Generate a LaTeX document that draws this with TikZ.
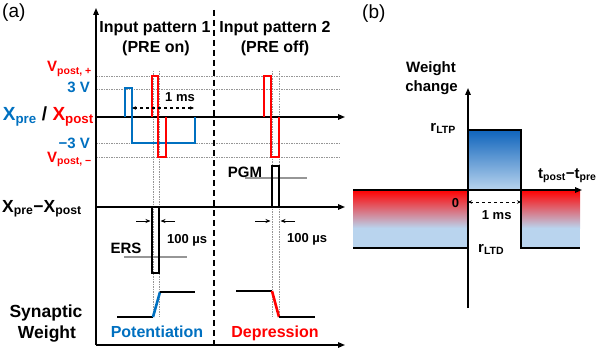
\documentclass[tikz,border=0pt]{standalone}
\usepackage{fontspec}
\setmainfont{Liberation Sans}
\usetikzlibrary{arrows.meta,positioning,calc}
\definecolor{preblue}{RGB}{0,112,192}
\definecolor{postred}{RGB}{255,0,0}
\definecolor{paleblue}{RGB}{185,212,238}
\definecolor{deepblue}{RGB}{15,100,188}
\definecolor{gridgray}{RGB}{150,150,150}
\tikzset{
  axis/.style={line width=1.4pt, -{Triangle[length=7pt,width=5.5pt]}},
  guide/.style={gridgray, line width=0.6pt, dash pattern=on 1.5pt off 1pt},
  pulse/.style={line width=2.9pt},
  wline/.style={line width=2.6pt},
  thresh/.style={gridgray, line width=1.6pt},
  ptr/.style={line width=1pt, -{Stealth[length=5pt,width=4pt]}},
  span/.style={line width=1pt, dashed, {Stealth[length=4pt,width=3.5pt]}-{Stealth[length=4pt,width=3.5pt]}},
  ttl/.style={font=\bfseries\fontsize{16}{18}\selectfont, inner sep=0pt},
  lab/.style={font=\bfseries\fontsize{15}{17}\selectfont, inner sep=0pt},
  big/.style={font=\bfseries\fontsize{19}{21}\selectfont, inner sep=0pt},
  mid/.style={font=\bfseries\fontsize{17.5}{19}\selectfont, inner sep=0pt},
  tiny/.style={font=\bfseries\fontsize{13}{15}\selectfont, inner sep=0pt},
  panel/.style={font=\fontsize{19}{21}\selectfont, inner sep=0pt},
}

\begin{document}
\begin{tikzpicture}[x=1pt, y=-1pt]
  \useasboundingbox (0,0) rectangle (596,350);
  % ---- panel (a)
  \node[panel, anchor=base west] (pa) at (2,18) {(a)};
  \node[ttl, anchor=base] (t1a) at (155,33) {Input pattern 1};
  \node[ttl, anchor=base] (t1b) at (156,53) {(PRE on)};
  \node[ttl, anchor=base] (t2a) at (275,33) {Input pattern 2};
  \node[ttl, anchor=base] (t2b) at (275,53) {(PRE off)};
  % guide lines
  \foreach \y in {76,89,143,157}
    \draw[guide] (96,\y) -- (340,\y);
  \foreach \x in {153.3,159,272.5,279.3}
    \draw[guide] (\x,71) -- (\x,317);
  % axes
  \coordinate (o) at (96,345);
  \coordinate (top) at (96,8);
  \coordinate (v0) at (96,117);
  \coordinate (d0) at (96,207);
  \draw[axis] (o) -- (top);
  \draw[axis] (o) -- (345,345);
  \draw[axis] (v0) -- (345,117);
  \draw[axis] (d0) -- (345,207);
  \draw[line width=2pt, dash pattern=on 6pt off 4pt] (214,10) -- (214,350);
  % left labels
  \node[lab, anchor=base east, postred] (vp) at (92,72) {V\textsubscript{post, +}};
  \node[lab, anchor=base east, preblue] (p3) at (90,93) {3 V};
  \node[big, anchor=base east] (xx) at (94,121)
    {\textcolor{preblue}{X\textsubscript{pre}} / \textcolor{postred}{X\textsubscript{post}}};
  \node[lab, anchor=base east, preblue] (m3) at (90,148) {−3 V};
  \node[lab, anchor=base east, postred] (vm) at (92,162) {V\textsubscript{post, −}};
  \node[mid, anchor=base west] (xd) at (2,212) {X\textsubscript{pre}−X\textsubscript{post}};
  \node[mid, anchor=base] (sw1) at (46,317) {Synaptic};
  \node[mid, anchor=base] (sw2) at (47,338) {Weight};
  % pattern 1 waveforms
  \draw[pulse, preblue] (125,117) -- (125,88) -- (132,88) -- (132,143) -- (195,143) -- (195,117);
  \draw[pulse, postred] (152,117) -- (152,76) -- (158,76) -- (158,157) -- (166,157) -- (166,117);
  \draw[span] (132,108) -- (194,108);
  \node[tiny, anchor=base west] (ms1) at (165,102) {1 ms};
  \draw[thresh] (124,257) -- (187,257);
  \draw[pulse] (152,207) -- (152,273) -- (159,273) -- (159,207);
  \node[lab, anchor=base] (ers) at (126,253) {ERS};
  \coordinate (e1) at (136,221);
  \coordinate (e2) at (175,221);
  \draw[ptr] (e1) -- (150.5,221);
  \draw[ptr] (e2) -- (160.5,221);
  \node[tiny, anchor=base west] (us1) at (167,243) {100 µs};
  \draw[wline] (117,317) -- (153,317);
  \draw[wline, preblue] (153,317) -- (160,292);
  \draw[wline] (160,292) -- (195,292);
  \node[ttl, anchor=base, preblue] (pot) at (157,337) {Potentiation};
  % pattern 2 waveforms
  \draw[pulse, postred] (264,117) -- (264,76) -- (271,76) -- (271,157) -- (279,157) -- (279,117);
  \draw[thresh] (245,178) -- (307,178);
  \draw[pulse] (272,207) -- (272,166) -- (279,166) -- (279,207);
  \node[lab, anchor=base] (pgm) at (245,177) {PGM};
  \coordinate (f1) at (255,221);
  \coordinate (f2) at (295,221);
  \draw[ptr] (f1) -- (270.5,221);
  \draw[ptr] (f2) -- (280.5,221);
  \node[tiny, anchor=base west] (us2) at (287,242) {100 µs};
  \draw[wline] (236,291) -- (272,291);
  \draw[wline, postred] (272,291) -- (279,317);
  \draw[wline] (279,317) -- (315,317);
  \node[ttl, anchor=base, postred] (dep) at (275,337) {Depression};
  % ---- panel (b)
  \node[panel, anchor=base west] (pb) at (362,19) {(b)};
  \fill[paleblue] (353,228) rectangle (468,248);
  \shade[top color=postred, bottom color=paleblue] (353,190) rectangle (468,228);
  \fill[paleblue] (521,228) rectangle (580,248);
  \shade[top color=postred, bottom color=paleblue] (521,190) rectangle (580,228);
  \shade[top color=deepblue, bottom color=paleblue] (468,130) rectangle (521,190);
  \draw[line width=1.4pt] (353,248) -- (468,248);
  \draw[line width=1.4pt] (468,130) -- (521,130) -- (521,248) -- (580,248);
  \draw[axis] (468,308) -- (468,88);
  \draw[axis] (353,190) -- (582,190);
  \draw[span] (468,202) -- (521,202);
  \node[tiny, anchor=base] (zero) at (455.5,207) {0};
  \node[tiny, anchor=base] (ms2) at (496.7,219) {1 ms};
  \node[lab, anchor=base] (wc1) at (431,73) {Weight};
  \node[lab, anchor=base] (wc2) at (431.5,92) {change};
  \node[lab, anchor=base east] (ltp) at (456,131) {r\textsubscript{LTP}};
  \node[lab, anchor=base west] (ltd) at (478,252) {r\textsubscript{LTD}};
  \node[lab, anchor=base west] (tt) at (538,178) {t\textsubscript{post}−t\textsubscript{pre}};
\end{tikzpicture}
\end{document}
